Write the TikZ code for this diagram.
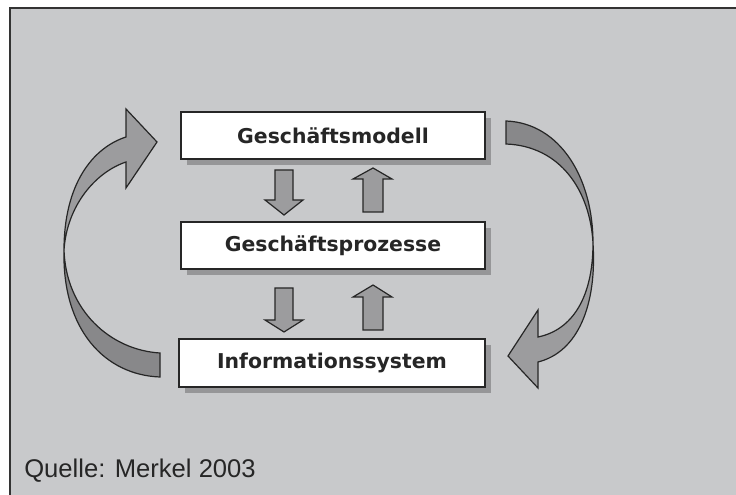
\documentclass[tikz,border=0pt]{standalone}
\usepackage{fontspec}
\usepackage{xcolor}
\usepackage{tikz}
\newfontfamily\boxfont{DejaVu Sans}
\newfontfamily\srcfont{Liberation Sans}
\definecolor{bggray}{RGB}{200,201,203}
\definecolor{shadowgray}{RGB}{150,150,152}
\definecolor{arrowlight}{RGB}{156,156,158}
\definecolor{arrowdark}{RGB}{136,136,138}
\tikzstyle{level} = [draw=black!85, line width=1.1pt, fill=white, inner sep=0pt,
  minimum width=228pt, minimum height=35.25pt, text=black!85,
  font=\boxfont\bfseries\fontsize{15.3pt}{17pt}\selectfont,
  drop shadow={shadow xshift=4.5pt, shadow yshift=-4.5pt, fill=shadowgray, opacity=1}]
\tikzstyle{blk} = [draw=black!85, line width=0.9pt, fill=arrowlight, line join=miter]
\usetikzlibrary{shadows}

\begin{document}
\begin{tikzpicture}[x=0.75pt, y=-0.75pt]
  \useasboundingbox (0,0) rectangle (736,495);
  % Frame
  \fill[bggray] (10,8) rectangle (736,495);
  \draw[black!80, line width=1pt] (10,495) -- (10,8) -- (736,8);

  % Nodes
  \node[level] (gm) at (333,135.5) {Geschäftsmodell};
  \node[level] (gp) at (333,245.5) {Geschäftsprozesse};
  \node[level, minimum width=229.5pt, minimum height=36pt] (is) at (332,363) {Informationssystem};

  \node[anchor=base west, inner sep=0pt, text=black!85,
    font=\srcfont\fontsize{19.2pt}{21pt}\selectfont] (src) at (24,478) {Quelle: Merkel 2003};

  % Arrows between the levels
  \foreach \t/\b/\p in {170/200/215, 288/320/332}
    \draw[blk] (275,\t) -- (293,\t) -- (293,\b) -- (303,\b) -- (284,\p) -- (265,\b) -- (275,\b) -- cycle;
  \foreach \p/\b/\e in {168/179/212, 285/297/330}
    \draw[blk] (373,\p) -- (392,\b) -- (383,\b) -- (383,\e) -- (363,\e) -- (363,\b) -- (353,\b) -- cycle;

  % Curved arrow, left
  \draw[blk, fill=arrowdark] (64,250) .. controls (66,310) and (110,350) .. (160,353)
    -- (160,377) .. controls (105,375) and (62,330) .. (64,250) -- cycle;
  \draw[blk] (64,250) .. controls (64,185) and (92,148) .. (126,137) -- (126,109) -- (157,142)
    -- (126,188) -- (126,162) .. controls (96,172) and (67,205) .. (64,250) -- cycle;

  % Curved arrow, right
  \draw[blk, fill=arrowdark] (506,121) .. controls (560,123) and (593,178) .. (593,243)
    .. controls (590,190) and (560,146) .. (506,144) -- cycle;
  \draw[blk] (593,243) .. controls (593,298) and (572,330) .. (538,337) -- (538,310) -- (508,356)
    -- (538,388) -- (538,362) .. controls (578,352) and (597,305) .. (593,243) -- cycle;
\end{tikzpicture}
\end{document}
